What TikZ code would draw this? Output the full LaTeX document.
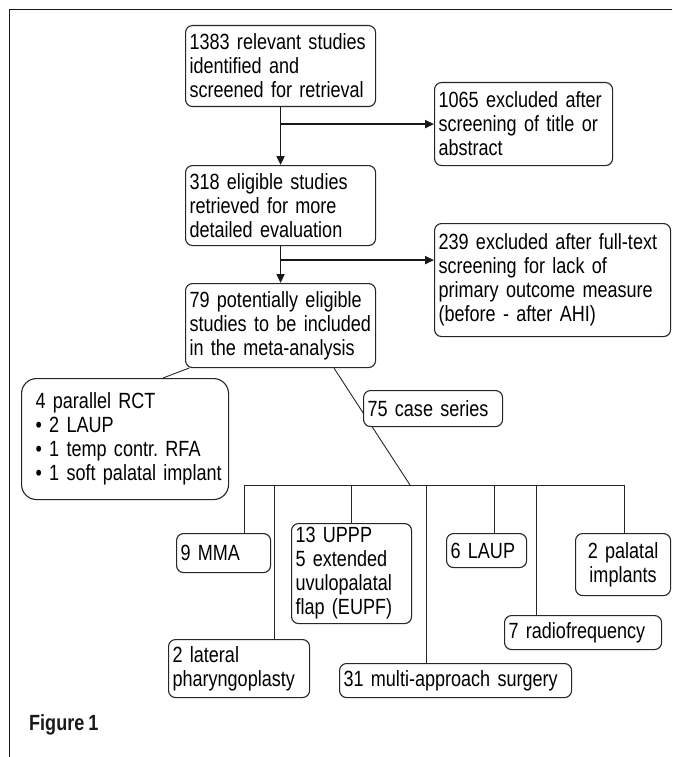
\documentclass[tikz,border=0pt]{standalone}
\usepackage{fontspec}
\usetikzlibrary{arrows.meta,backgrounds,calc}
\newfontfamily\boxfont[FakeStretch=0.82,WordSpace=0.8]{Liberation Sans}
\begin{document}
\frenchspacing
\hyphenpenalty=10000
\exhyphenpenalty=10000
\hbadness=10000
\hfuzz=20pt
\begin{tikzpicture}[x=1pt,y=-1pt,
  box/.style={draw=black!85, line width=1.1pt, rounded corners=7pt, fill=white,
    anchor=north west, inner xsep=4pt, inner ysep=0pt, align=left,
    font=\boxfont\fontsize{22}{24}\selectfont},
  arr/.style={line width=1.8pt, draw=black!90, -{Triangle[length=9pt,width=8pt]}},
  tree/.style={line width=0.9pt, draw=black!85},
  frameline/.style={line width=1.5pt, draw=black!90}]
\useasboundingbox (0,0) rectangle (672,757);
% frame
\coordinate (fTR) at (672,9.5);
\coordinate (fTL) at (9.5,9.5);
\coordinate (fBL) at (9.5,757);
\draw[frameline] (fTR) -- (fTL) -- (fBL);
% main boxes
\node[box, text width=182pt, minimum height=81pt] (n1383) at (185,25) {1383 relevant studies\\identified and\\screened for retrieval};
\node[box, text width=170pt, minimum height=83pt] (n1065) at (434,82) {1065 excluded after\\screening of title or\\abstract};
\node[box, text width=182pt, minimum height=80pt] (n318) at (185,165) {318 eligible studies\\retrieved for more\\detailed evaluation};
\node[box, text width=228pt, minimum height=113pt] (n239) at (434,223) {239 excluded after full-text\\screening for lack of\\primary outcome measure\\(before - after AHI)};
\node[box, text width=182pt, minimum height=84pt] (n79) at (185,283) {79 potentially eligible\\studies to be included\\in the meta-analysis};
\node[box, rounded corners=15pt, inner xsep=14pt, text width=179pt, minimum height=121pt] (rct) at (21,378) {4~parallel~RCT\\•~2~LAUP\\•~1~temp~contr.~RFA\\•~1~soft~palatal~implant};
\node[box, text width=131pt, minimum height=36pt] (n75) at (363,390) {75 case series};
% leaf boxes
\node[box, text width=86pt, minimum height=39pt] (mma) at (176,533) {9 MMA};
\node[box, text width=112pt, minimum height=100pt] (uppp) at (291,523) {13 UPPP\\5 extended\\uvulopalatal\\flap (EUPF)};
\node[box, text width=72pt, minimum height=34pt] (laup) at (446,533) {6 LAUP};
\node[box, align=center, text width=87pt, minimum height=62pt] (pal) at (575,533) {2 palatal\\implants};
\node[box, text width=133pt, minimum height=58pt] (lat) at (168,639) {2 lateral\\pharyngoplasty};
\node[box, text width=224pt, minimum height=34pt] (multi) at (339,663) {31 multi-approach surgery};
\node[box, text width=149pt, minimum height=34pt] (radio) at (504,615) {7 radiofrequency};
% caption
\node[anchor=west, inner sep=0pt, text=black!90, font=\boxfont\bfseries\fontsize{22}{25}\selectfont] (fig) at (29,725) {Figure 1};
% arrows
\draw[arr] (n1383.south) -- (n318.north);
\path (n1383.south) ++(0,17) coordinate (b1);
\draw[arr] (b1) -- (b1 -| n1065.west);
\draw[arr] (n318.south) -- (n79.north);
\path (n318.south) ++(0,14) coordinate (b2);
\draw[arr] (b2) -- (b2 -| n239.west);
% tree
\coordinate (t79a) at ($(n79.south west)+(4,0)$);
\coordinate (trct) at ($(rct.north west)+(142,0)$);
\draw[tree] (t79a) -- (trct);
\coordinate (t79b) at ($(n79.south west)+(149,0)$);
\coordinate (busL) at (244,485);
\coordinate (busR) at (624,485);
\coordinate (busJ) at (410,485);
\begin{pgfonlayer}{background}
\draw[tree] (t79b) -- (busJ);
\end{pgfonlayer}
\draw[tree] (busL) -- (busR);
\coordinate (d1) at (244,485);
\coordinate (d2) at (274,485);
\coordinate (d3) at (351,485);
\coordinate (d4) at (426,485);
\coordinate (d5) at (494,485);
\coordinate (d6) at (536,485);
\coordinate (d7) at (624,485);
\draw[tree] (d1) -- (d1 |- mma.north);
\draw[tree] (d2) -- (d2 |- lat.north);
\draw[tree] (d3) -- (d3 |- uppp.north);
\draw[tree] (d4) -- (d4 |- multi.north);
\draw[tree] (d5) -- (d5 |- laup.north);
\draw[tree] (d6) -- (d6 |- radio.north);
\draw[tree] (d7) -- (d7 |- pal.north);
\end{tikzpicture}
\end{document}
